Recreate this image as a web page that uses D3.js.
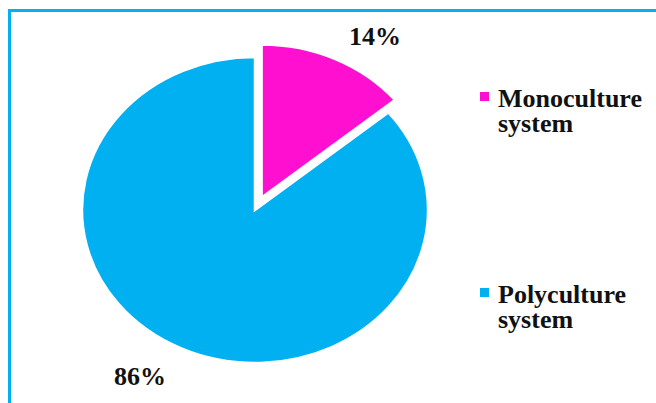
<!DOCTYPE html>
<html>
<head>
<meta charset="utf-8">
<script src="https://cdn.jsdelivr.net/npm/d3@7"></script>
<style>
  body { margin: 0; background: #fff; }
  text { font-family: "Liberation Serif", "Times New Roman", serif; font-weight: bold; fill: #111; }
</style>
</head>
<body>
<div id="chart"></div>
<script>
// chart values
const categories = ['Monoculture system', 'Polyculture system'];
const values = [14, 86];
const value_labels = ['14%', '86%'];

const width = 656, height = 403;
const cx = 255, cy = 210;          // pie centre
const rx = 173, ry = 153;          // the picture is stretched, so the pie is an ellipse
const explode = 0.09;              // fraction of radius the first slice is pulled out

const color = d3.scaleOrdinal()
    .domain(categories)
    .range(['#ff10d0', '#00b0f0']);

const svg = d3.select('#chart').append('svg')
    .attr('width', width)
    .attr('height', height);

// outer frame, only top and left are visible
svg.append('rect')
    .attr('x', 9.5).attr('y', 10.5)
    .attr('width', 700).attr('height', 500)
    .attr('fill', 'none')
    .attr('stroke', '#00b0f0')
    .attr('stroke-width', 3);

const pie = d3.pie().sort(null).value(function(d) { return d.value; });
const arc = d3.arc().innerRadius(0).outerRadius(ry);

const data = categories.map(function(c, i) { return {name: c, value: values[i], label: value_labels[i]}; });
const arcs = pie(data);

const g = svg.append('g')
    .attr('transform', 'translate(' + cx + ',' + cy + ') scale(' + (rx / ry) + ',1)');

g.selectAll('path')
    .data(arcs)
    .enter()
    .append('path')
    .attr('d', arc)
    .attr('fill', function(d) { return color(d.data.name); })
    .attr('stroke', '#fff')
    .attr('stroke-width', 2.5)
    .attr('vector-effect', 'non-scaling-stroke')
    .attr('transform', function(d, i) {
        if (i !== 0) return null;
        const a = (d.startAngle + d.endAngle) / 2;
        return 'translate(' + (explode * ry * Math.sin(a)) + ',' + (-explode * ry * Math.cos(a)) + ')';
    });

// percentage labels placed outside the pie
const label_pos = [[375, 45], [140, 385]];
svg.selectAll('text.pct')
    .data(arcs)
    .enter()
    .append('text')
    .attr('class', 'pct')
    .attr('x', function(d, i) { return label_pos[i][0]; })
    .attr('y', function(d, i) { return label_pos[i][1]; })
    .attr('text-anchor', 'middle')
    .style('font-size', '26px')
    .text(function(d) { return d.data.label; });

// legend, each label wrapped on two lines
const legend = svg.selectAll('g.legend')
    .data(categories)
    .enter()
    .append('g')
    .attr('class', 'legend')
    .attr('transform', function(d, i) { return 'translate(480,' + (i === 0 ? 92 : 288) + ')'; });

legend.append('rect')
    .attr('width', 9).attr('height', 9)
    .attr('fill', function(d) { return color(d); });

legend.each(function(d) {
    const words = d.split(' ');
    const sel = d3.select(this);
    words.forEach(function(w, j) {
        sel.append('text')
            .attr('x', 18)
            .attr('y', 15 + j * 25)
            .style('font-size', '26px')
            .text(w);
    });
});
</script>
</body>
</html>
